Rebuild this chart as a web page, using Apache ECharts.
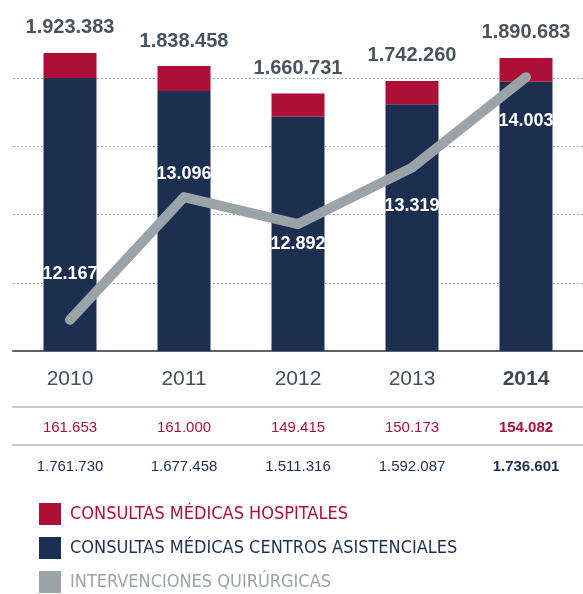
<!DOCTYPE html>
<html>
<head>
<meta charset="utf-8">
<script src="https://cdn.jsdelivr.net/npm/echarts@6/dist/echarts.min.js"></script>
<style>
  html, body { margin: 0; padding: 0; background: #fff; }
  #main { width: 583px; height: 594px; }
</style>
</head>
<body>
<div id="main"></div>
<script>
// datos
const years = ['2010', '2011', '2012', '2013', '2014'];
const hospitales = [161653, 161000, 149415, 150173, 154082];
const centros = [1761730, 1677458, 1511316, 1592087, 1736601];
const intervenciones = [12167, 13096, 12892, 13319, 14003];

// colores
const RED = '#ae0f37';
const NAVY = '#1c2f50';
const GREY = '#9aa3a8';
const TEXT = '#4a545c';
const NUM_FONT = "'Liberation Sans', Arial, sans-serif";
const LEG_FONT = "'DejaVu Sans Condensed', 'Liberation Sans', sans-serif";

// desplazamiento vertical de cada etiqueta de la linea
const lineLabelDy = [-46, -23, 20, 38, 44];

function fmt(n) {
  return String(n).replace(/\B(?=(\d{3})+(?!\d))/g, '.');
}

const last = years.length - 1;
const chart = echarts.init(document.getElementById('main'));

chart.setOption({
  animation: false,
  textStyle: { fontFamily: NUM_FONT },
  grid: { left: 13, right: 0, top: 10, bottom: 243 },
  legend: {
    orient: 'vertical',
    left: 39,
    top: 503,
    padding: 0,
    itemWidth: 22,
    itemHeight: 22,
    itemGap: 12,
    icon: 'rect',
    selectedMode: false,
    textStyle: { fontFamily: LEG_FONT, fontSize: 18, padding: [0, 0, 0, 4] },
    data: [
      { name: 'CONSULTAS MÉDICAS HOSPITALES', textStyle: { color: RED } },
      { name: 'CONSULTAS MÉDICAS CENTROS ASISTENCIALES', textStyle: { color: NAVY } },
      { name: 'INTERVENCIONES QUIRÚRGICAS', textStyle: { color: GREY } }
    ]
  },
  xAxis: [
    {
      type: 'category',
      data: years,
      axisLine: { lineStyle: { color: '#5b646b', width: 2 } },
      axisTick: { show: false },
      axisLabel: {
        interval: 0,
        margin: 18,
        fontFamily: NUM_FONT,
        fontSize: 21,
        color: '#454f57',
        formatter: (v, i) => i === last ? '{b|' + v + '}' : v,
        rich: { b: { fontFamily: NUM_FONT, fontSize: 21, fontWeight: 'bold', color: '#3f4951' } }
      }
    },
    {
      type: 'category',
      data: years,
      position: 'bottom',
      offset: 56,
      axisLine: { lineStyle: { color: '#c6cacd', width: 2 } },
      axisTick: { show: false },
      axisLabel: {
        interval: 0,
        margin: 13,
        fontFamily: NUM_FONT,
        fontSize: 15,
        color: RED,
        formatter: (v, i) => i === last ? '{b|' + fmt(hospitales[i]) + '}' : fmt(hospitales[i]),
        rich: { b: { fontFamily: NUM_FONT, fontSize: 15, fontWeight: 'bold', color: RED } }
      }
    },
    {
      type: 'category',
      data: years,
      position: 'bottom',
      offset: 94,
      axisLine: { lineStyle: { color: '#c6cacd', width: 2 } },
      axisTick: { show: false },
      axisLabel: {
        interval: 0,
        margin: 14,
        fontFamily: NUM_FONT,
        fontSize: 15,
        color: NAVY,
        formatter: (v, i) => i === last ? '{b|' + fmt(centros[i]) + '}' : fmt(centros[i]),
        rich: { b: { fontFamily: NUM_FONT, fontSize: 15, fontWeight: 'bold', color: NAVY } }
      }
    }
  ],
  yAxis: [
    {
      type: 'value',
      min: 0,
      max: 2200000,
      interval: 440000,
      axisLabel: { show: false },
      axisLine: { show: false },
      axisTick: { show: false },
      splitLine: {
        showMaxLine: false,
        lineStyle: { color: '#8a8f93', type: [1.5, 2.5], width: 1 }
      }
    },
    {
      type: 'value',
      min: 11932,
      max: 14511,
      show: false,
      splitLine: { show: false }
    }
  ],
  series: [
    {
      name: 'CONSULTAS MÉDICAS CENTROS ASISTENCIALES',
      type: 'bar',
      stack: 'consultas',
      barWidth: 53,
      itemStyle: { color: NAVY },
      data: centros
    },
    {
      name: 'CONSULTAS MÉDICAS HOSPITALES',
      type: 'bar',
      stack: 'consultas',
      barWidth: 53,
      itemStyle: { color: RED },
      label: {
        show: true,
        position: 'top',
        distance: 15,
        fontFamily: NUM_FONT,
        fontSize: 20,
        fontWeight: 'bold',
        color: TEXT,
        formatter: p => fmt(hospitales[p.dataIndex] + centros[p.dataIndex])
      },
      data: hospitales
    },
    {
      name: 'INTERVENCIONES QUIRÚRGICAS',
      type: 'line',
      yAxisIndex: 1,
      symbol: 'circle',
      symbolSize: 1,
      itemStyle: { color: GREY },
      lineStyle: { color: GREY, width: 10, cap: 'round', join: 'round' },
      label: {
        show: true,
        position: 'inside',
        fontFamily: NUM_FONT,
        fontSize: 18,
        fontWeight: 'bold',
        color: '#fff',
        formatter: p => fmt(p.value)
      },
      data: intervenciones.map((v, i) => ({
        value: v,
        label: { offset: [0, lineLabelDy[i]] }
      }))
    }
  ]
});
</script>
</body>
</html>
